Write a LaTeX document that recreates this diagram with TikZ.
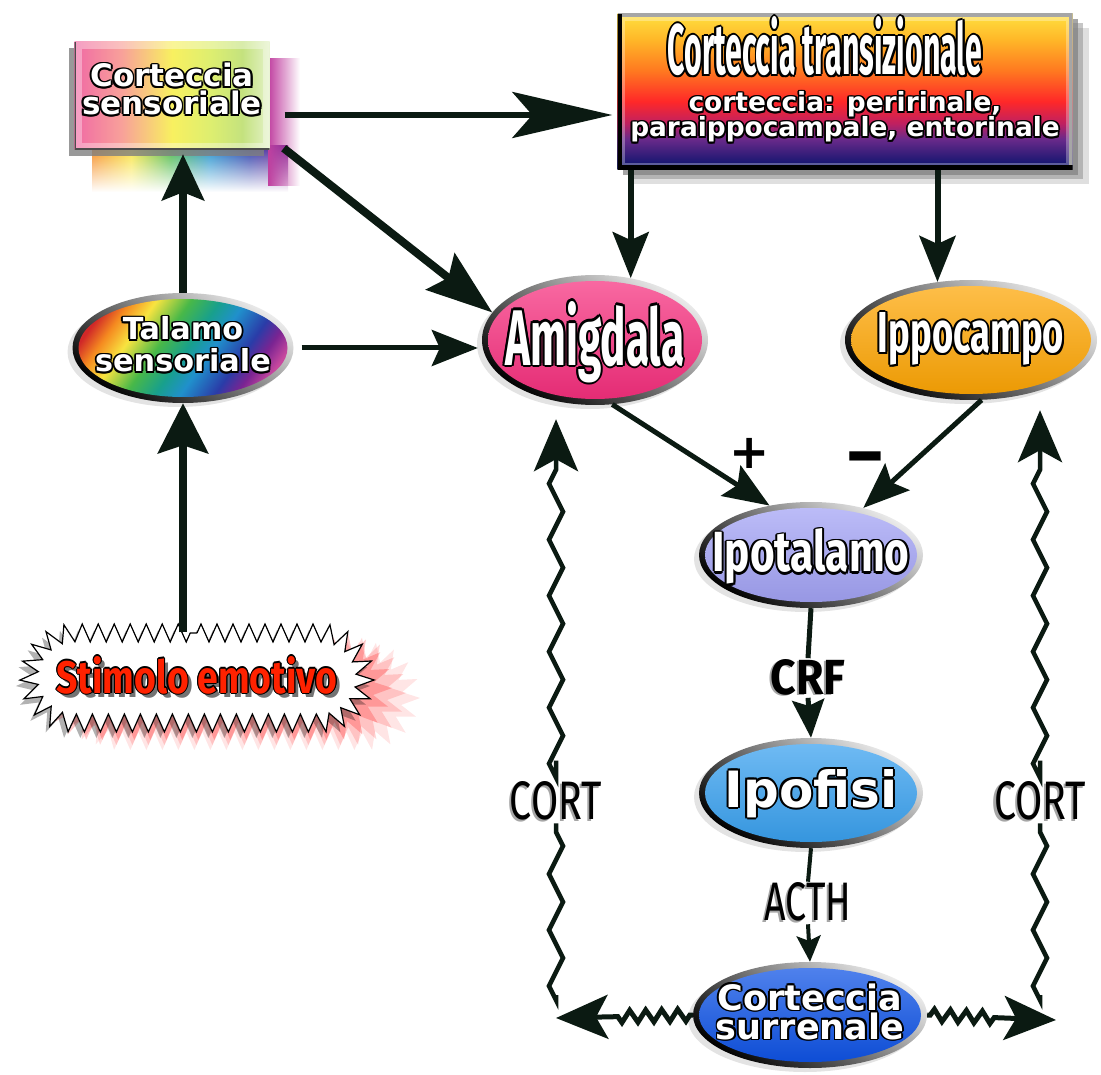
\documentclass[tikz,border=0pt]{standalone}
\usepackage{fontspec}
\usepackage{graphicx}
\usetikzlibrary{arrows.meta,calc,decorations.pathmorphing,shapes.geometric,shapes.misc,shadows,fadings}
\newfontfamily\verd{DejaVu Sans}
\newfontfamily\condf{Fira Sans}

\definecolor{arrowcol}{HTML}{0B1A12}
\definecolor{amicol}{HTML}{F72C7C}
\definecolor{ippocol}{HTML}{FFA500}
\definecolor{ipotcol}{HTML}{A2A2F6}
\definecolor{ipofcol}{HTML}{36A0F0}
\definecolor{surrcol}{HTML}{0A50E6}
\definecolor{stimred}{HTML}{FF2200}
\definecolor{glowmag}{HTML}{C040A0}
% transitional cortex, bottom to top
\definecolor{tr1}{HTML}{161670}\definecolor{tr2}{HTML}{6A2A8A}\definecolor{tr3}{HTML}{C02060}
\definecolor{tr4}{HTML}{FF2828}\definecolor{tr5}{HTML}{FF7A20}\definecolor{tr6}{HTML}{FFB828}
\definecolor{tr7}{HTML}{FFE040}
% sensory cortex, left to right
\definecolor{se1}{HTML}{F06AA4}\definecolor{se2}{HTML}{F8A09A}\definecolor{se3}{HTML}{F8F060}
\definecolor{se4}{HTML}{DDEE70}\definecolor{se5}{HTML}{C4E27E}\definecolor{se6}{HTML}{E4F2C8}
% thalamus rainbow
\definecolor{ta1}{HTML}{D02828}\definecolor{ta2}{HTML}{F58A20}\definecolor{ta3}{HTML}{F8E440}
\definecolor{ta4}{HTML}{48B848}\definecolor{ta5}{HTML}{18A08C}\definecolor{ta6}{HTML}{2090CC}
\definecolor{ta7}{HTML}{2A3CA8}\definecolor{ta8}{HTML}{7A2492}\definecolor{ta9}{HTML}{C8489E}

\pgfdeclareverticalshading{transshade}{100bp}{color(0bp)=(tr1); color(27bp)=(tr1); color(35bp)=(tr2);
  color(40bp)=(tr3); color(47bp)=(tr4); color(57bp)=(tr5); color(67bp)=(tr6); color(75bp)=(tr7); color(100bp)=(tr7)}
\pgfdeclarehorizontalshading{sensshade}{100bp}{color(0bp)=(se1); color(25bp)=(se1); color(37bp)=(se2);
  color(50bp)=(se3); color(60bp)=(se4); color(68bp)=(se5); color(75bp)=(se6); color(100bp)=(se6)}
\pgfdeclarehorizontalshading{talamoshade}{100bp}{color(0bp)=(ta1); color(25bp)=(ta1); color(30bp)=(ta2);
  color(36bp)=(ta3); color(44bp)=(ta4); color(51bp)=(ta5); color(57bp)=(ta6); color(65bp)=(ta7);
  color(70bp)=(ta8); color(75bp)=(ta9); color(100bp)=(ta9)}
\pgfdeclarehorizontalshading{glowshade}{100bp}{color(0bp)=(ta2); color(25bp)=(ta2); color(35bp)=(ta3);
  color(45bp)=(ta4); color(55bp)=(ta6); color(65bp)=(ta7); color(75bp)=(ta8); color(100bp)=(ta8)}

% white letters with a black rim
\newcommand{\outlc}[3]{\hbox{\setbox0=\hbox{\color{black}#3}\setbox2=\hbox{\color{#2}#3}%
  \rlap{\kern#1\copy0}\rlap{\kern-#1\copy0}\rlap{\raise#1\copy0}\rlap{\lower#1\copy0}%
  \rlap{\kern.7\dimexpr#1\relax\raise.7\dimexpr#1\relax\copy0}%
  \rlap{\kern-.7\dimexpr#1\relax\raise.7\dimexpr#1\relax\copy0}%
  \rlap{\kern.7\dimexpr#1\relax\lower.7\dimexpr#1\relax\copy0}%
  \rlap{\kern-.7\dimexpr#1\relax\lower.7\dimexpr#1\relax\copy0}%
  \box2}}
\newcommand{\outl}[1]{\outlc{1.8pt}{white}{#1}}
\newcommand{\squeeze}[3]{\resizebox{#1}{#2}{\condf\bfseries #3}}
\newcommand{\squeezem}[3]{\resizebox{#1}{#2}{\condf #3}}
\newcommand{\shadowed}[1]{\hbox{\rlap{\kern-2pt\lower1.5pt\hbox{\color{black!35}#1}}\color{black}#1}}
% zero sized block of centred lines, first baseline raised by #1
\newcommand{\stack}[3]{\makebox[0pt]{\raisebox{#1}[0pt][0pt]{\vtop{\baselineskip=#2\lineskiplimit=-100pt\lineskip=0pt
  \halign{\hfil##\hfil\cr#3\crcr}}}}}

\tikzset{
  oval/.style n args={3}{ellipse, inner sep=0pt, minimum width=#1, minimum height=#2,
    top color=gray!15, bottom color=black, shading angle=-35,
    drop shadow={opacity=.22, shadow xshift=-5pt, shadow yshift=-4pt},
    path picture={\path[#3] (path picture bounding box.center) ellipse ({#1/2-6pt} and {#2/2-6pt});}},
  ovalfill/.style={top color=#1!70!white, middle color=#1, bottom color=#1!92!black},
  sensbox/.style={rectangle, inner sep=0pt, minimum width=195pt, minimum height=108pt,
    shading=sensshade,
    drop shadow={shadow xshift=-6pt, shadow yshift=-6pt, fill=gray, opacity=.8},
    path picture={\draw[white, opacity=.35, line width=14pt] (path picture bounding box.south west)
      rectangle (path picture bounding box.north east);
      \draw[black!70, line width=3pt] (path picture bounding box.north west) -- (path picture bounding box.south west)
      -- (path picture bounding box.south east);}},
  transbox/.style={rectangle, inner sep=0pt, minimum width=455pt, minimum height=156pt,
    shading=transshade,
    drop shadow={shadow xshift=16pt, shadow yshift=-14pt, opacity=.25},
    drop shadow={shadow xshift=10pt, shadow yshift=-9pt, opacity=.45},
    drop shadow={shadow xshift=5pt, shadow yshift=-5pt, opacity=.7},
    path picture={\draw[white, opacity=.3, line width=14pt] (path picture bounding box.south west)
      rectangle (path picture bounding box.north east);
      \draw[gray!70, line width=7pt] (path picture bounding box.south east) -- (path picture bounding box.north east)
      -- (path picture bounding box.north west);
      \draw[black, line width=9pt] (path picture bounding box.north west) -- (path picture bounding box.south west)
      -- (path picture bounding box.south east);}},
  burst/.style={rounded rectangle, inner sep=0pt, minimum width=336pt, minimum height=90pt,
    fill=white, draw=black, line width=1.2pt, decorate,
    decoration={zigzag, segment length=16pt, amplitude=9pt},
    drop shadow={fill=red, opacity=.10, shadow xshift=46pt, shadow yshift=-18pt},
    drop shadow={fill=red, opacity=.15, shadow xshift=32pt, shadow yshift=-13pt},
    drop shadow={fill=red, opacity=.22, shadow xshift=18pt, shadow yshift=-8pt},
    drop shadow={fill=black, opacity=.3, shadow xshift=-4pt, shadow yshift=-6pt}},
  lbl/.style={inner sep=1pt},
  link/.style={draw=arrowcol, line width=#1},
  wavy/.style={draw=arrowcol, line width=4.5pt, decorate,
    decoration={zigzag, segment length=#1, amplitude=6pt, pre length=3pt, post length=3pt}},
  tipped/.style={decoration={post length=54pt}},
  headXL/.style={-{Stealth[length=50pt,width=50pt,inset=8pt]}},
  headL/.style={-{Stealth[length=46pt,width=42pt,inset=8pt]}},
  headD/.style={-{Stealth[length=66pt,width=46pt,inset=10pt]}},
  headlong/.style={-{Stealth[length=100pt,width=46pt,inset=20pt]}},
  headM/.style={-{Stealth[length=46pt,width=36pt,inset=8pt]}},
  headS/.style={-{Stealth[length=38pt,width=32pt,inset=6pt]}},
  headXS/.style={-{Stealth[length=26pt,width=24pt,inset=5pt]}},
  headW/.style={-{Stealth[length=52pt,width=44pt,inset=12pt]}}
}

\begin{document}
\begin{tikzpicture}[x=1pt,y=-1pt]
\useasboundingbox (0,0) rectangle (1101,1075);

% glow round the sensory cortex
\shade[shading=glowshade, path fading=south] (92,146) rectangle (288,192);
\fill[glowmag, path fading=east] (268,58) rectangle (300,186);

\node[sensbox, font=\verd\bfseries\fontsize{31pt}{31pt}\selectfont] (sens) at (172,96)
  {\stack{9pt}{28pt}{\outl{Corteccia}\cr\outl{sensoriale}}};
\node[transbox, font=\verd\bfseries\fontsize{26.4pt}{26pt}\selectfont] (trans) at (845,92)
  {\stack{17pt}{25pt}{\kern-40pt\outlc{2pt}{white}{\squeeze{315pt}{58pt}{Corteccia transizionale}}\cr
   \noalign{\vskip12pt}\outl{corteccia: peririnale,}\cr\outl{paraippocampale, entorinale}}};

\node[oval={221pt}{110pt}{shade, shading=talamoshade}, font=\verd\bfseries\fontsize{30.3pt}{30pt}\selectfont]
  (tal) at (183,348) {\stack{8pt}{32pt}{\outl{Talamo}\cr\outl{sensoriale}}};
\node[oval={226pt}{130pt}{ovalfill=amicol}] (amig) at (595,340)
  {\stack{-25pt}{10pt}{\outlc{2.2pt}{white}{\squeeze{179pt}{64pt}{Amigdala}}}};
\node[oval={252pt}{120pt}{ovalfill=ippocol}] (ippo) at (971,340)
  {\stack{-13pt}{10pt}{\outlc{2pt}{white}{\squeeze{186pt}{40pt}{Ippocampo}}}};
\node[oval={224pt}{106pt}{ovalfill=ipotcol}] (ipot) at (811,555)
  {\stack{-17pt}{10pt}{\outlc{2pt}{white}{\squeeze{197pt}{43pt}{Ipotalamo}}}};
\node[oval={224pt}{110pt}{ovalfill=ipofcol}, font=\verd\bfseries\fontsize{50pt}{50pt}\selectfont]
  (ipof) at (811,793) {\stack{-14pt}{10pt}{\outlc{2pt}{white}{Ipofisi}}};
\node[oval={234pt}{106pt}{ovalfill=surrcol}, font=\verd\bfseries\fontsize{35pt}{35pt}\selectfont]
  (surr) at (810,1015) {\stack{5pt}{29pt}{\outl{Corteccia}\cr\outl{surrenale}}};

\node[burst] (stim) at (197,678)
  {\stack{-15pt}{10pt}{\hbox{\rlap{\kern4pt\lower4pt\hbox{\color{black!55}\squeeze{281pt}{37pt}{Stimolo emotivo}}}%
   \outlc{1.2pt}{stimred}{\squeeze{281pt}{37pt}{Stimolo emotivo}}}}};

\node[lbl] (crf) at (808,678) {\shadowed{\squeeze{75pt}{35pt}{CRF}}};
\node[lbl] (acth) at (808,903) {\shadowed{\squeezem{87pt}{38pt}{ACTH}}};
\node[lbl] (cortL) at (556,802) {\shadowed{\squeezem{92pt}{38pt}{CORT}}};
\node[lbl] (cortR) at (1040,802) {\shadowed{\squeezem{92pt}{38pt}{CORT}}};
\node[lbl, font=\verd\bfseries\fontsize{48pt}{48pt}\selectfont] (plus) at (750,453) {+};
\node[lbl, font=\verd\bfseries\fontsize{50pt}{50pt}\selectfont] (minus) at (865,467) {\scalebox{1}[1.6]{−}};

\coordinate (ltip) at (556,1018);
\coordinate (lbend) at (556,1003);
\coordinate (rtip) at (1056,1020);
\coordinate (rbend) at (1040,1003);

\draw[link=8pt, headXL] (stim.north -| tal.south) -- (tal.south);
\draw[link=8pt, headL, shorten >=4pt] (tal.north) -- (tal.north |- sens.south);
\draw[link=6pt, headlong, shorten >=5pt] ($(sens.east)+(15,19)$) -- ($(trans.west)+(0,23)$);
\draw[link=8pt, headD] ($(sens.south east)+(14,-2)$) -- (amig.165);
\draw[link=5pt, headM, shorten <=8pt, shorten >=4pt] (tal.east) -- (tal.east -| amig.west);
\draw[link=6pt, headM] (trans.south -| amig.60) -- (amig.60);
\draw[link=6pt, headM] (trans.south -| ippo.120) -- (ippo.120);
\draw[link=5pt, headM] (amig.-75) -- (ipot.130);
\draw[link=5pt, headM] (ippo.-80) -- (ipot.42);
\draw[link=5pt] (ipot.south) -- (crf.north);
\draw[link=5pt, headS] (crf.south) -- (ipof.north);
\draw[link=4pt] (ipof.south) -- (acth.north);
\draw[link=4pt, headXS] (acth.south) -- (surr.north);

\draw[wavy=16pt, line width=5pt, tipped, headW] (surr.west) -- (ltip);
\draw[wavy=16pt, line width=5pt, tipped, headW] (surr.east) -- (rtip);
\draw[wavy=56pt, decoration={amplitude=7pt}, shorten <=8pt] (lbend) -- (cortL.south);
\draw[wavy=56pt, decoration={amplitude=7pt}, tipped, headW, shorten <=20pt, shorten >=14pt] (cortL.north) -- (cortL.north |- amig.south);
\draw[wavy=56pt, decoration={amplitude=7pt}, shorten <=8pt] (rbend) -- (cortR.south);
\draw[wavy=56pt, decoration={amplitude=7pt}, tipped, headW, shorten <=20pt, shorten >=10pt] (cortR.north) -- (cortR.north |- ippo.south);
\end{tikzpicture}
\end{document}
